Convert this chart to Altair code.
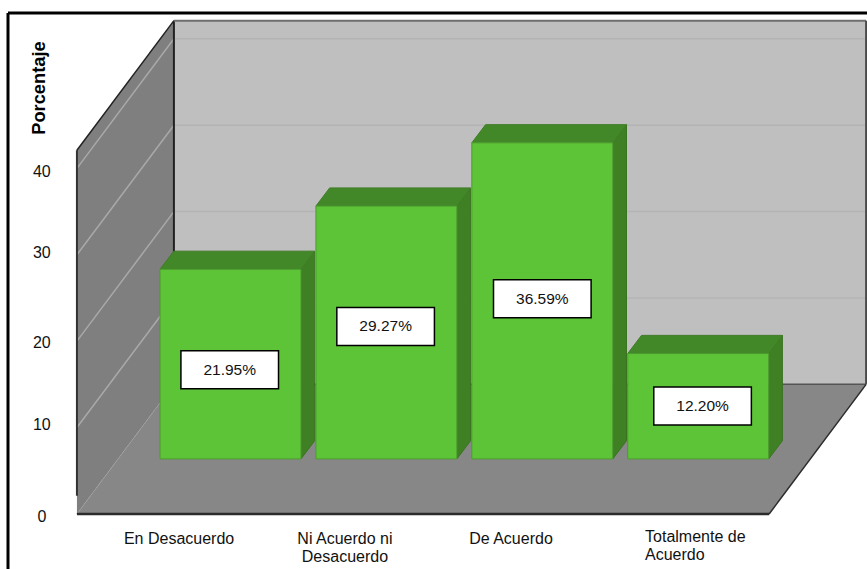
import altair as alt
import pandas as pd

# Survey results
categories = ["En Desacuerdo", "Ni Acuerdo ni\nDesacuerdo", "De Acuerdo", "Totalmente de\nAcuerdo"]
percentages = [21.95, 29.27, 36.59, 12.20]
value_labels = ["21.95%", "29.27%", "36.59%", "12.20%"]
y_ticks = [0, 10, 20, 30, 40]
y_title = "Porcentaje"

# Box geometry: x is in bar slots (bar centres sit on 0, 1, 2, 3), y in percentage points
X_DOMAIN = [-1.4785, 4.0827]
Y_DOMAIN = [-6.37, 59.49]
WALL_LEFT, WALL_RIGHT = -0.985, 3.455
WALL_HEIGHT = 42.1
DEPTH_X, DEPTH_Y = 0.622, 15.0
BAR_HALF = 0.452
BAR_BASE = 6.37
BAR_DEPTH_X, BAR_DEPTH_Y = 0.088, 2.1
BOX_HALF_X, BOX_HALF_Y = 0.313, 2.2

# Placement of the text, in the same units
box_centre_x = [-0.005, 0.995, 2.0, 3.028]
box_centre_y = [16.7, 21.7, 24.9, 12.5]
tick_shift = [-0.4, 0.3, -0.2, 0.2, -0.4]
label_x = [-0.330, 0.734, 1.799, 2.659]
label_y = [-2.89, -2.89, -2.89, -2.66]

x_scale = alt.Scale(domain=X_DOMAIN, nice=False, zero=False)
y_scale = alt.Scale(domain=Y_DOMAIN, nice=False, zero=False)
X = alt.X("x:Q", scale=x_scale, axis=None)
Y = alt.Y("y:Q", scale=y_scale, axis=None)
X2 = alt.X2("x2:Q")
Y2 = alt.Y2("y2:Q")


def segment(x, y, x2, y2, color, width=1.0, dash=None):
    kw = {"strokeDash": dash} if dash else {}
    return (
        alt.Chart(pd.DataFrame([{"x": x, "y": y, "x2": x2, "y2": y2}]))
        .mark_rule(color=color, strokeWidth=width, **kw)
        .encode(x=X, y=Y, x2=X2, y2=Y2)
    )


def rect_df(x, y, x2, y2, **extra):
    return {"x": x, "y": y, "x2": x2, "y2": y2, **extra}


# Back wall, side wall and floor
back_wall = (
    alt.Chart(pd.DataFrame([rect_df(WALL_LEFT + DEPTH_X, DEPTH_Y, WALL_RIGHT + DEPTH_X, DEPTH_Y + WALL_HEIGHT)]))
    .mark_rect(color="#bfbfbf")
    .encode(x=X, y=Y, x2=X2, y2=Y2)
)
side_wall = (
    alt.Chart(pd.DataFrame([
        {"x": WALL_LEFT, "y": 0, "y2": WALL_HEIGHT},
        {"x": WALL_LEFT + DEPTH_X, "y": DEPTH_Y, "y2": DEPTH_Y + WALL_HEIGHT},
    ]))
    .mark_area(color="#7f7f7f", orient="vertical")
    .encode(x=X, y=Y, y2=Y2)
)
floor = (
    alt.Chart(pd.DataFrame([
        {"y": 0, "x": WALL_LEFT, "x2": WALL_RIGHT},
        {"y": DEPTH_Y, "x": WALL_LEFT + DEPTH_X, "x2": WALL_RIGHT + DEPTH_X},
    ]))
    .mark_area(color="#878787", orient="horizontal")
    .encode(x=X, x2=X2, y=Y)
)

# Gridlines run across the side wall and along the back wall
grid_layers = []
for t in y_ticks[1:]:
    grid_layers.append(segment(WALL_LEFT, t, WALL_LEFT + DEPTH_X, t + DEPTH_Y, "#a9a9a9", 1.5))
    grid_layers.append(segment(WALL_LEFT + DEPTH_X, t + DEPTH_Y, WALL_RIGHT + DEPTH_X, t + DEPTH_Y, "#b4b4b4", 1.5))

# Outline of the box
edges = [
    segment(WALL_LEFT, 2.1, WALL_LEFT, WALL_HEIGHT, "#333333", 2),
    segment(WALL_LEFT, WALL_HEIGHT, WALL_LEFT + DEPTH_X, DEPTH_Y + WALL_HEIGHT, "#222222", 1.5),
    segment(WALL_LEFT + DEPTH_X, DEPTH_Y, WALL_LEFT + DEPTH_X, DEPTH_Y + WALL_HEIGHT, "#222222", 2),
    segment(WALL_LEFT + DEPTH_X, DEPTH_Y + WALL_HEIGHT, WALL_RIGHT + DEPTH_X, DEPTH_Y + WALL_HEIGHT, "#6e6e6e", 2),
    segment(WALL_RIGHT + DEPTH_X, DEPTH_Y, WALL_RIGHT + DEPTH_X, DEPTH_Y + WALL_HEIGHT, "#4a4a4a", 2),
    segment(WALL_LEFT + DEPTH_X, DEPTH_Y, WALL_RIGHT + DEPTH_X, DEPTH_Y, "#555555", 1.5),
    segment(WALL_LEFT, 0, WALL_LEFT + DEPTH_X, DEPTH_Y, "#a0a0a0", 1, [2, 2]),
    segment(WALL_LEFT, 0, WALL_RIGHT, 0, "#2b2b2b", 2.5),
    segment(WALL_RIGHT, 0, WALL_RIGHT + DEPTH_X, DEPTH_Y, "#2b2b2b", 1.5),
]

# Extruded bars: side, top and front face, drawn left to right
bar_layers = []
for i, value in enumerate(percentages):
    left, right = i - BAR_HALF, i + BAR_HALF
    top = BAR_BASE + value
    side = (
        alt.Chart(pd.DataFrame([
            {"x": right, "y": BAR_BASE, "y2": top},
            {"x": right + BAR_DEPTH_X, "y": BAR_BASE + BAR_DEPTH_Y, "y2": top + BAR_DEPTH_Y},
        ]))
        .mark_area(color="#3f8024", stroke="#3a7421", strokeWidth=1, orient="vertical")
        .encode(x=X, y=Y, y2=Y2)
    )
    cap = (
        alt.Chart(pd.DataFrame([
            {"y": top, "x": left, "x2": right},
            {"y": top + BAR_DEPTH_Y, "x": left + BAR_DEPTH_X, "x2": right + BAR_DEPTH_X},
        ]))
        .mark_area(color="#438828", stroke="#3f7d26", strokeWidth=1, orient="horizontal")
        .encode(x=X, x2=X2, y=Y)
    )
    front = (
        alt.Chart(pd.DataFrame([rect_df(left, BAR_BASE, right, top)]))
        .mark_rect(color="#5dc337", stroke="#4c9a30", strokeWidth=1)
        .encode(x=X, y=Y, x2=X2, y2=Y2)
    )
    bar_layers += [side, cap, front]

# Value labels in white boxes
box_data = pd.DataFrame({
    "x": [c - BOX_HALF_X for c in box_centre_x],
    "x2": [c + BOX_HALF_X for c in box_centre_x],
    "y": [c - BOX_HALF_Y for c in box_centre_y],
    "y2": [c + BOX_HALF_Y for c in box_centre_y],
})
boxes = (
    alt.Chart(box_data)
    .mark_rect(fill="white", stroke="black", strokeWidth=1.5)
    .encode(x=X, y=Y, x2=X2, y2=Y2)
)
box_text = (
    alt.Chart(pd.DataFrame({"x": box_centre_x, "y": box_centre_y, "t": value_labels}))
    .mark_text(font="Liberation Sans", fontSize=15.5, color="#111111", baseline="middle")
    .encode(x=X, y=Y, text="t:N")
)

# Axis labels
tick_text = (
    alt.Chart(pd.DataFrame({
        "x": [-1.21] * len(y_ticks),
        "y": [t + s for t, s in zip(y_ticks, tick_shift)],
        "t": [str(t) for t in y_ticks],
    }))
    .mark_text(font="Liberation Sans", fontSize=16, color="#111111", baseline="middle")
    .encode(x=X, y=Y, text="t:N")
)
category_rows = pd.DataFrame({"x": label_x, "y": label_y, "t": categories})
centered_text = (
    alt.Chart(category_rows.iloc[:3])
    .mark_text(font="Liberation Sans", fontSize=16, color="#111111", baseline="middle",
               lineBreak="\n", lineHeight=18)
    .encode(x=X, y=Y, text="t:N")
)
left_text = (
    alt.Chart(category_rows.iloc[3:])
    .mark_text(font="Liberation Sans", fontSize=16, color="#111111", baseline="middle", align="left",
               lineBreak="\n", lineHeight=18)
    .encode(x=X, y=Y, text="t:N")
)
title_text = (
    alt.Chart(pd.DataFrame({"x": [-1.22], "y": [49.3], "t": [y_title]}))
    .mark_text(font="Liberation Sans", fontSize=18.3, fontWeight="bold", angle=270, color="black", baseline="middle")
    .encode(x=X, y=Y, text="t:N")
)

# Outer frame, running off the right and bottom of the page
frame_left = alt.Chart(pd.DataFrame({"a": [0]})).mark_rule(color="black", strokeWidth=3).encode(
    x=alt.value(8), y=alt.value(13), y2=alt.value(569))
frame_top = alt.Chart(pd.DataFrame({"a": [0]})).mark_rule(color="black", strokeWidth=3).encode(
    x=alt.value(8), x2=alt.value(867), y=alt.value(13))

chart = (
    alt.layer(
        back_wall, side_wall, floor, *grid_layers, *edges, *bar_layers,
        boxes, box_text, tick_text, centered_text, left_text, title_text, frame_left, frame_top,
    )
    .properties(width=867, height=569, padding=0, autosize=alt.AutoSizeParams(type="none"))
    .configure_view(stroke=None)
)

chart.save("out.html", embed_options={"renderer": "svg", "actions": False})
